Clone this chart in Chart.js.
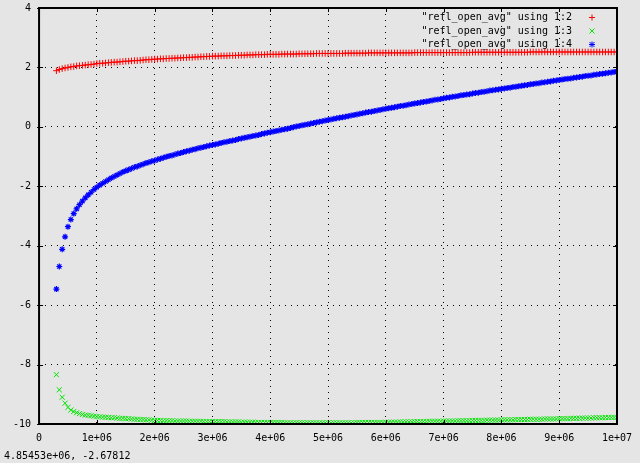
<!DOCTYPE html>
<html>
<head>
<meta charset="utf-8">
<script src="https://cdn.jsdelivr.net/npm/chart.js@4"></script>
<style>
  html, body { margin: 0; padding: 0; background: #e5e5e5; }
  #wrap { position: relative; width: 640px; height: 463px; }
  #status { position: absolute; left: 4px; top: 450px; font: 10px "DejaVu Sans Mono", monospace; color: #000; white-space: pre; }
</style>
</head>
<body>
<div id="wrap">
  <canvas id="plot" width="640" height="463"></canvas>
  <div id="status">4.85453e+06, -2.67812</div>
</div>
<script>
// x values (in units of 1e6)
const xMillions = [
  0.3,0.35,0.4,0.45,0.5,0.55,0.6,0.65,0.7,0.75,0.8,0.85,0.9,0.95,
  1,1.05,1.1,1.15,1.2,1.25,1.3,1.35,1.4,1.45,1.5,1.55,1.6,1.65,1.7,1.75,1.8,1.85,1.9,1.95,
  2,2.05,2.1,2.15,2.2,2.25,2.3,2.35,2.4,2.45,2.5,2.55,2.6,2.65,2.7,2.75,2.8,2.85,2.9,2.95,
  3,3.05,3.1,3.15,3.2,3.25,3.3,3.35,3.4,3.45,3.5,3.55,3.6,3.65,3.7,3.75,3.8,3.85,3.9,3.95,
  4,4.05,4.1,4.15,4.2,4.25,4.3,4.35,4.4,4.45,4.5,4.55,4.6,4.65,4.7,4.75,4.8,4.85,4.9,4.95,
  5,5.05,5.1,5.15,5.2,5.25,5.3,5.35,5.4,5.45,5.5,5.55,5.6,5.65,5.7,5.75,5.8,5.85,5.9,5.95,
  6,6.05,6.1,6.15,6.2,6.25,6.3,6.35,6.4,6.45,6.5,6.55,6.6,6.65,6.7,6.75,6.8,6.85,6.9,6.95,
  7,7.05,7.1,7.15,7.2,7.25,7.3,7.35,7.4,7.45,7.5,7.55,7.6,7.65,7.7,7.75,7.8,7.85,7.9,7.95,
  8,8.05,8.1,8.15,8.2,8.25,8.3,8.35,8.4,8.45,8.5,8.55,8.6,8.65,8.7,8.75,8.8,8.85,8.9,8.95,
  9,9.05,9.1,9.15,9.2,9.25,9.3,9.35,9.4,9.45,9.5,9.55,9.6,9.65,9.7,9.75,9.8,9.85,9.9,9.95,10
];

// column 2 (red +)
const col2 = [
  1.89,1.93,1.96,1.98,2.00,2.02,2.03,2.05,2.06,2.07,2.08,2.09,2.10,2.11,
  2.13,2.14,2.14,2.15,2.16,2.17,2.18,2.18,2.19,2.20,2.21,2.21,2.22,2.23,2.23,2.24,2.25,2.26,2.26,2.27,
  2.28,2.28,2.29,2.29,2.30,2.30,2.31,2.31,2.32,2.32,2.33,2.33,2.34,2.34,2.35,2.35,2.36,2.36,2.37,2.37,
  2.38,2.38,2.38,2.39,2.39,2.39,2.40,2.40,2.40,2.41,2.41,2.41,2.42,2.42,2.42,2.43,2.43,2.43,2.43,2.44,
  2.44,2.44,2.44,2.44,2.45,2.45,2.45,2.45,2.45,2.45,2.46,2.46,2.46,2.46,2.46,2.46,2.47,2.47,2.47,2.47,
  2.47,2.47,2.47,2.47,2.47,2.47,2.48,2.48,2.48,2.48,2.48,2.48,2.48,2.48,2.49,2.49,2.49,2.49,2.49,2.49,
  2.49,2.49,2.49,2.49,2.49,2.49,2.49,2.49,2.49,2.49,2.50,2.50,2.50,2.50,2.50,2.50,2.50,2.50,2.50,2.50,
  2.50,2.50,2.50,2.50,2.50,2.50,2.50,2.50,2.50,2.50,2.51,2.51,2.51,2.51,2.51,2.51,2.51,2.51,2.51,2.51,
  2.51,2.51,2.51,2.51,2.51,2.51,2.51,2.51,2.51,2.51,2.52,2.52,2.52,2.52,2.52,2.52,2.52,2.52,2.52,2.52,
  2.52,2.52,2.52,2.52,2.52,2.52,2.52,2.52,2.52,2.52,2.52,2.52,2.52,2.52,2.52,2.52,2.52,2.52,2.52,2.52,2.52
];

// column 3 (green x)
const col3 = [
  -8.34,-8.85,-9.10,-9.30,-9.44,-9.53,-9.58,-9.62,-9.65,-9.68,-9.70,-9.71,-9.72,-9.74,
  -9.75,-9.76,-9.77,-9.77,-9.78,-9.79,-9.79,-9.80,-9.81,-9.81,-9.82,-9.82,-9.83,-9.84,-9.84,-9.85,-9.85,-9.86,-9.86,-9.87,
  -9.88,-9.88,-9.88,-9.89,-9.89,-9.89,-9.89,-9.90,-9.90,-9.90,-9.90,-9.90,-9.91,-9.91,-9.91,-9.91,-9.91,-9.92,-9.92,-9.92,
  -9.92,-9.92,-9.92,-9.92,-9.92,-9.93,-9.93,-9.93,-9.93,-9.93,-9.94,-9.94,-9.94,-9.94,-9.94,-9.95,-9.95,-9.95,-9.95,-9.95,
  -9.95,-9.95,-9.95,-9.95,-9.95,-9.96,-9.96,-9.96,-9.96,-9.96,-9.96,-9.96,-9.96,-9.96,-9.96,-9.96,-9.96,-9.96,-9.96,-9.96,
  -9.96,-9.96,-9.96,-9.96,-9.96,-9.96,-9.96,-9.96,-9.96,-9.96,-9.95,-9.95,-9.95,-9.95,-9.95,-9.95,-9.95,-9.95,-9.95,-9.95,
  -9.94,-9.94,-9.94,-9.94,-9.94,-9.93,-9.93,-9.93,-9.93,-9.93,-9.92,-9.92,-9.92,-9.92,-9.92,-9.91,-9.91,-9.91,-9.91,-9.91,
  -9.90,-9.90,-9.90,-9.90,-9.90,-9.89,-9.89,-9.89,-9.89,-9.89,-9.88,-9.88,-9.88,-9.88,-9.88,-9.87,-9.87,-9.87,-9.87,-9.87,
  -9.86,-9.86,-9.86,-9.86,-9.86,-9.85,-9.85,-9.85,-9.85,-9.85,-9.84,-9.84,-9.84,-9.84,-9.84,-9.83,-9.83,-9.83,-9.83,-9.83,
  -9.82,-9.82,-9.82,-9.82,-9.81,-9.81,-9.81,-9.81,-9.80,-9.80,-9.80,-9.80,-9.79,-9.79,-9.79,-9.79,-9.78,-9.78,-9.78,-9.78,-9.78
];

// column 4 (blue *)
const col4 = [
  -5.46,-4.70,-4.12,-3.70,-3.36,-3.12,-2.92,-2.76,-2.62,-2.50,-2.39,-2.29,-2.20,-2.11,
  -2.03,-1.96,-1.90,-1.84,-1.78,-1.72,-1.67,-1.62,-1.57,-1.52,-1.48,-1.44,-1.40,-1.36,-1.33,-1.29,-1.26,-1.22,-1.19,-1.16,
  -1.13,-1.10,-1.07,-1.04,-1.01,-0.98,-0.96,-0.93,-0.90,-0.88,-0.85,-0.82,-0.80,-0.77,-0.75,-0.72,-0.70,-0.68,-0.65,-0.63,
  -0.61,-0.59,-0.57,-0.54,-0.52,-0.50,-0.48,-0.46,-0.44,-0.41,-0.39,-0.37,-0.35,-0.33,-0.31,-0.29,-0.27,-0.24,-0.22,-0.20,
  -0.18,-0.16,-0.14,-0.12,-0.10,-0.08,-0.06,-0.04,-0.01,0.01,0.03,0.05,0.07,0.09,0.11,0.13,0.15,0.17,0.19,0.21,
  0.23,0.25,0.27,0.29,0.31,0.32,0.34,0.36,0.38,0.40,0.42,0.44,0.46,0.48,0.50,0.51,0.53,0.55,0.57,0.59,
  0.61,0.63,0.64,0.66,0.68,0.70,0.71,0.73,0.75,0.77,0.79,0.80,0.82,0.84,0.85,0.87,0.89,0.91,0.92,0.94,
  0.96,0.98,0.99,1.01,1.02,1.04,1.06,1.07,1.09,1.10,1.12,1.14,1.15,1.17,1.18,1.20,1.22,1.23,1.25,1.26,
  1.28,1.29,1.31,1.32,1.34,1.35,1.37,1.38,1.40,1.41,1.43,1.44,1.46,1.47,1.49,1.50,1.52,1.53,1.55,1.56,
  1.58,1.59,1.61,1.62,1.63,1.65,1.66,1.68,1.69,1.71,1.72,1.73,1.75,1.76,1.78,1.79,1.80,1.82,1.83,1.85,1.86
];

const seriesLabels = ['"refl_open_avg" using 1:2', '"refl_open_avg" using 1:3', '"refl_open_avg" using 1:4'];
const xTickLabels = ['0', '1e+06', '2e+06', '3e+06', '4e+06', '5e+06', '6e+06', '7e+06', '8e+06', '9e+06', '1e+07'];
const yTickLabels = ['-10', '-8', '-6', '-4', '-2', '0', '2', '4'];

const FONT = { family: '"DejaVu Sans Mono", monospace', size: 10 };

function toPoints(values) {
  return xMillions.map((x, i) => ({ x: x * 1e6, y: values[i] }));
}

// fond gris
const bgPlugin = {
  id: 'bg',
  beforeDraw(chart) {
    const ctx = chart.ctx;
    ctx.save();
    ctx.fillStyle = '#e5e5e5';
    ctx.fillRect(0, 0, chart.width, chart.height);
    ctx.restore();
  }
};

// cadre noir, petits ticks et légende à la gnuplot
const framePlugin = {
  id: 'frame',
  afterDraw(chart) {
    const ctx = chart.ctx;
    const a = chart.chartArea;
    const xs = chart.scales.x, ys = chart.scales.y;
    ctx.save();
    ctx.strokeStyle = '#000';
    ctx.lineWidth = 1;
    ctx.beginPath();
    xs.ticks.forEach(t => {
      const px = Math.round(xs.getPixelForValue(t.value)) + 0.5;
      ctx.moveTo(px, a.bottom); ctx.lineTo(px, a.bottom - 4);
      ctx.moveTo(px, a.top); ctx.lineTo(px, a.top + 4);
    });
    ys.ticks.forEach(t => {
      const py = Math.round(ys.getPixelForValue(t.value)) + 0.5;
      ctx.moveTo(a.left - 2, py); ctx.lineTo(a.left + 4, py);
      ctx.moveTo(a.right, py); ctx.lineTo(a.right - 4, py);
    });
    ctx.stroke();
    ctx.lineWidth = 2;
    ctx.strokeRect(a.left, a.top, a.right - a.left, a.bottom - a.top);

    // légende
    ctx.font = '10px "DejaVu Sans Mono", monospace';
    ctx.textAlign = 'right';
    ctx.textBaseline = 'middle';
    chart.data.datasets.forEach((ds, i) => {
      const y = a.top + 9.5 + i * 13.5;
      ctx.fillStyle = '#000';
      ctx.fillText(ds.label, a.right - 45, y);
      const mx = a.right - 25;
      ctx.strokeStyle = ds.borderColor;
      ctx.lineWidth = 1;
      ctx.beginPath();
      if (ds.pointStyle === 'cross' || ds.pointStyle === 'star') {
        ctx.moveTo(mx - 3, y); ctx.lineTo(mx + 3, y);
        ctx.moveTo(mx, y - 3); ctx.lineTo(mx, y + 3);
      }
      if (ds.pointStyle === 'crossRot' || ds.pointStyle === 'star') {
        ctx.moveTo(mx - 2.5, y - 2.5); ctx.lineTo(mx + 2.5, y + 2.5);
        ctx.moveTo(mx - 2.5, y + 2.5); ctx.lineTo(mx + 2.5, y - 2.5);
      }
      ctx.stroke();
    });
    ctx.restore();
  }
};

new Chart(document.getElementById('plot'), {
  type: 'scatter',
  data: {
    datasets: [
      { label: seriesLabels[0], data: toPoints(col2), pointStyle: 'cross', radius: 3.3, borderColor: '#ff0000', backgroundColor: '#ff0000', borderWidth: 1 },
      { label: seriesLabels[1], data: toPoints(col3), pointStyle: 'crossRot', radius: 3.6, borderColor: '#00e600', backgroundColor: '#00e600', borderWidth: 1 },
      { label: seriesLabels[2], data: toPoints(col4), pointStyle: 'star', radius: 3, borderColor: '#0000ff', backgroundColor: '#0000ff', borderWidth: 1.2 }
    ]
  },
  options: {
    responsive: false,
    animation: false,
    layout: { padding: { left: 5, right: 23, top: 8, bottom: 11 } },
    plugins: { legend: { display: false }, tooltip: { enabled: false } },
    scales: {
      x: {
        type: 'linear',
        min: 0, max: 1e7,
        grid: { color: '#000', lineWidth: 1, drawTicks: false },
        border: { display: false, dash: [1, 5] },
        afterFit: s => { s.paddingLeft = 0; s.paddingRight = 0; },
        ticks: {
          stepSize: 1e6, autoSkip: false, maxRotation: 0, padding: 8,
          color: '#000', font: FONT,
          callback: (v, i) => xTickLabels[i]
        }
      },
      y: {
        min: -10, max: 4,
        grid: { color: '#000', lineWidth: 1, drawTicks: false },
        border: { display: false, dash: [1, 5] },
        afterFit: s => { s.paddingTop = 0; s.paddingBottom = 0; },
        ticks: {
          stepSize: 2, padding: 8,
          color: '#000', font: FONT,
          callback: (v, i) => yTickLabels[i]
        }
      }
    }
  },
  plugins: [bgPlugin, framePlugin]
});
</script>
</body>
</html>
